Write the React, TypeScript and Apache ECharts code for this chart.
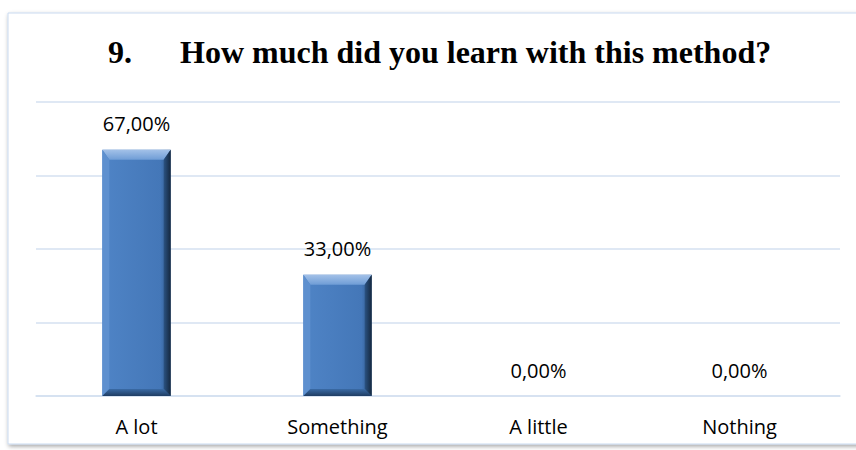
import React, { useEffect, useRef } from "react";
import * as echarts from "echarts";

const categories = ["A lot", "Something", "A little", "Nothing"];
const values = [67, 33, 0, 0];
const yMin = 0;
const yMax = 80;
const yInterval = 20;
const titleNumber = "9.";
const titleText = "How much did you learn with this method?";

const fmt = (v: number) => v.toFixed(2).replace(".", ",") + "%";

export default function App() {
  const ref = useRef<HTMLDivElement>(null);
  useEffect(() => {
    if (!ref.current) return;
    const chart = echarts.init(ref.current, null, { renderer: "svg" });
    const renderItem = (params: any, api: any) => {
      const idx = api.value(0);
      const val = api.value(1);
      const top = api.coord([idx, val]);
      const base = api.coord([idx, 0]);
      const bw = api.size([1, 0])[0] * 0.34;
      const x0 = top[0] - bw / 2;
      const x1 = top[0] + bw / 2;
      const y0 = top[1];
      const y1 = base[1];
      const children: any[] = [];
      if (y1 - y0 > 1) {
        const b = 10;
        const s = 7;
        children.push({
          type: "rect",
          shape: { x: x0, y: y0, width: bw, height: y1 - y0 },
          style: {
            fill: new echarts.graphic.LinearGradient(0, 0, 1, 0, [
              { offset: 0, color: "#4f84c6" },
              { offset: 0.85, color: "#4477b8" },
              { offset: 1, color: "#2d5585" },
            ]),
          },
        });
        children.push({
          type: "polygon",
          shape: { points: [[x0, y0], [x1, y0], [x1 - s, y0 + b], [x0 + s, y0 + b]] },
          style: {
            fill: new echarts.graphic.LinearGradient(0, 0, 0, 1, [
              { offset: 0, color: "#a3c1e8" },
              { offset: 1, color: "#6f9dd6" },
            ]),
          },
        });
        children.push({
          type: "polygon",
          shape: { points: [[x0, y0], [x0 + s, y0 + b], [x0 + s, y1 - s], [x0, y1]] },
          style: { fill: "#5e90cf" },
        });
        children.push({
          type: "polygon",
          shape: { points: [[x1, y0], [x1, y1], [x1 - s, y1 - s], [x1 - s, y0 + b]] },
          style: {
            fill: new echarts.graphic.LinearGradient(0, 0, 1, 0, [
              { offset: 0, color: "#2b5383" },
              { offset: 1, color: "#15283f" },
            ]),
          },
        });
        children.push({
          type: "polygon",
          shape: { points: [[x0, y1], [x1, y1], [x1 - s, y1 - s], [x0 + s, y1 - s]] },
          style: {
            fill: new echarts.graphic.LinearGradient(0, 0, 0, 1, [
              { offset: 0, color: "#3a6aa5" },
              { offset: 1, color: "#1f3d63" },
            ]),
          },
        });
      }
      children.push({
        type: "text",
        style: {
          x: top[0],
          y: y0 - 26,
          text: fmt(val),
          align: "center",
          verticalAlign: "middle",
          font: "20px 'Open Sans'",
          fill: "#000",
        },
      });
      return { type: "group", children };
    };
    chart.setOption({
      animation: false,
      backgroundColor: "#ffffff",
      graphic: [
        {
          type: "rect",
          shape: { x: 8, y: 13, width: 900, height: 431 },
          style: {
            fill: "#ffffff",
            stroke: "#c9daf0",
            lineWidth: 1,
            shadowBlur: 4,
            shadowColor: "rgba(0,0,0,0.35)",
            shadowOffsetX: 1,
            shadowOffsetY: 2,
          },
          z: -10,
        },
      ],
      title: {
        text: `{n|${titleNumber}}{t|${titleText}}`,
        left: 103,
        top: 31,
        textStyle: {
          rich: {
            n: { fontFamily: "'Liberation Serif'", fontWeight: "bold", fontSize: 32, color: "#000", width: 72 },
            t: { fontFamily: "'Liberation Serif'", fontWeight: "bold", fontSize: 32, color: "#000" },
          },
        },
      },
      grid: { left: 36, right: 16, top: 102, bottom: 54 },
      xAxis: {
        type: "category",
        data: categories,
        axisLine: { show: true, lineStyle: { color: "#d4e0f0", width: 1.5 } },
        axisTick: { show: false },
        axisLabel: { fontFamily: "'Open Sans'", fontSize: 20, color: "#000", margin: 20 },
      },
      yAxis: {
        type: "value",
        min: yMin,
        max: yMax,
        interval: yInterval,
        axisLabel: { show: false },
        axisLine: { show: false },
        axisTick: { show: false },
        splitLine: { lineStyle: { color: "#d4e0f0", width: 1.5 } },
      },
      series: [
        {
          type: "custom",
          renderItem,
          data: values.map((v, i) => [i, v]),
          encode: { x: 0, y: 1 },
        },
      ],
    });
    return () => chart.dispose();
  }, []);
  return (
    <div
      ref={ref}
      style={{ position: "fixed", left: 0, top: 0, width: 856, height: 450 }}
    />
  );
}
